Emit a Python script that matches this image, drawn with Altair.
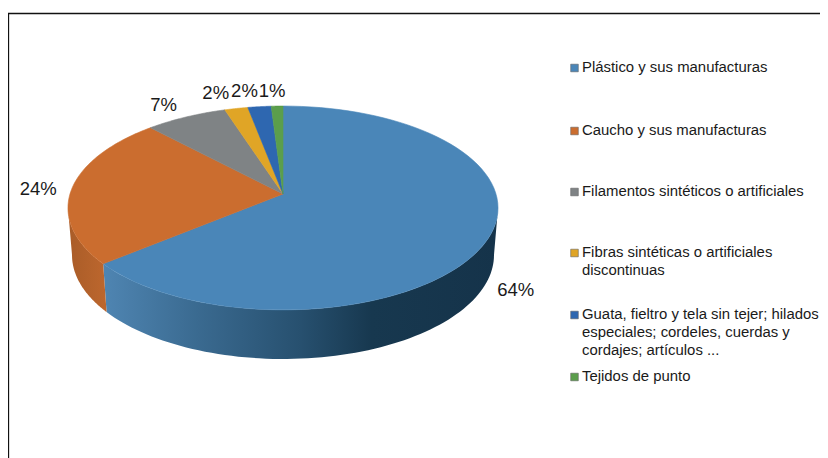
import math
import altair as alt
import pandas as pd

# --- chart values -----------------------------------------------------------
names = ["Plástico y sus manufacturas", "Caucho y sus manufacturas",
         "Filamentos sintéticos o artificiales", "Fibras sintéticas o artificiales discontinuas",
         "Guata, fieltro y tela sin tejer; hilados especiales; cordeles, cuerdas y cordajes; artículos ...",
         "Tejidos de punto"]
shares = [64, 24, 7, 2, 2, 1]
colors = ["#4a86b8", "#cb6d2f", "#7f8385", "#e0a526", "#2e67b0", "#5b9e4c"]
legend_lines = [["Plástico y sus manufacturas"], ["Caucho y sus manufacturas"],
                ["Filamentos sintéticos o artificiales"],
                ["Fibras sintéticas o artificiales", "discontinuas"],
                ["Guata, fieltro y tela sin tejer; hilados", "especiales; cordeles, cuerdas y", "cordajes; artículos ..."],
                ["Tejidos de punto"]]

# --- layout -----------------------------------------------------------------
CX, K = 283, 0.137
TOP = dict(R=213, a=100, y0=194)      # perspective of the upper face
BOT = dict(R=209, a=102, y0=240.8)    # perspective of the lower rim
LABEL_OFFSET = [(28, 51), (-34, 1), (-22.5, -12), (-20.5, -15.5), (-15, -16), (-5, -15)]
LEGEND_Y = [68, 131, 192, 253, 315, 377]
LEGEND_LINE = 18
LEGEND_X, LEGEND_SQ = 582, 574.5
SIL_R, SIL_L = 97.9, 262.1            # angles where the wall's silhouette lies


def project(deg, g):
    u, v = math.sin(math.radians(deg)), math.cos(math.radians(deg))
    d = 1 + K * v
    return CX + g["R"] * u / d, g["y0"] - g["a"] * v / d


def steps(a, b, n=80):
    return [a + (b - a) * i / n for i in range(n + 1)]


cum = [0]
for s in shares:
    cum.append(cum[-1] + s)
total = cum[-1]
ang = [c * 360 / total for c in cum]

# upper faces, one closed outline per slice
faces = []
for i, name in enumerate(names):
    pts = [(CX, TOP["y0"])] + [project(d, TOP) for d in steps(ang[i], ang[i + 1])]
    for j, (x, y) in enumerate(pts):
        faces.append(dict(slice=name, o=j, x=x, y=y))
faces = pd.DataFrame(faces)


def wall(a, b):
    top = [project(d, TOP) for d in steps(a, b)]
    bot = [project(d, BOT) for d in steps(a, b)]
    return pd.DataFrame([dict(o=j, x=x, y=y) for j, (x, y) in enumerate(top + bot[::-1])])


wall_blue = wall(SIL_R, ang[1])
wall_orange = wall(ang[1], SIL_L)

# text
labels = []
for i, s in enumerate(shares):
    mid = (ang[i] + ang[i + 1]) / 2
    x, y = project(mid, TOP)
    labels.append(dict(t=f"{s}%", x=x + LABEL_OFFSET[i][0], y=y + LABEL_OFFSET[i][1]))
labels = pd.DataFrame(labels)

legend_text = pd.DataFrame([dict(t=l, x=LEGEND_X, y=LEGEND_Y[i] + k * LEGEND_LINE)
                            for i, lines in enumerate(legend_lines) for k, l in enumerate(lines)])
legend_sq = pd.DataFrame([dict(slice=n, x=LEGEND_SQ, y=LEGEND_Y[i]) for i, n in enumerate(names)])

# --- scales: page pixel units --------------------------------------------------
W, H = 812, 450
xs = alt.Scale(domain=[8, 8 + W], range=[0, W], zero=False, nice=False)
ys = alt.Scale(domain=[8, 8 + H], range=[0, H], zero=False, nice=False)
X = alt.X("x:Q", scale=xs, axis=None)
Y = alt.Y("y:Q", scale=ys, axis=None)
cs = alt.Scale(domain=names, range=colors)


def grad(stops):
    return alt.Gradient(gradient="linear", x1=0, x2=1, y1=0, y2=0,
                        stops=[alt.GradientStop(offset=o, color=c) for o, c in stops])


wall1 = alt.Chart(wall_blue).mark_line(
    interpolate="linear-closed", strokeWidth=0,
    fill=grad([(0, "#4f85b2"), (0.24, "#3a6a90"), (0.5, "#27506f"), (0.68, "#17384f"), (1, "#15334a")])
).encode(x=X, y=Y, order="o:Q")
wall2 = alt.Chart(wall_orange).mark_line(
    interpolate="linear-closed", strokeWidth=0,
    fill=grad([(0, "#a95c28"), (1, "#bd672e")])
).encode(x=X, y=Y, order="o:Q")
top = alt.Chart(faces).mark_line(interpolate="linear-closed", strokeWidth=0.6).encode(
    x=X, y=Y, order="o:Q",
    fill=alt.Fill("slice:N", scale=cs, legend=None),
    stroke=alt.Stroke("slice:N", scale=cs, legend=None),
)
pct = alt.Chart(labels).mark_text(font="Liberation Sans", fontSize=18.5, color="#1a1a1a",
                                  align="center", baseline="middle").encode(x=X, y=Y, text="t:N")
sq = alt.Chart(legend_sq).mark_square(size=58, opacity=1, strokeWidth=0.6, stroke="#666666").encode(
    x=X, y=Y, fill=alt.Fill("slice:N", scale=cs, legend=None))
leg = alt.Chart(legend_text).mark_text(font="Liberation Sans", fontSize=14.9, color="#1a1a1a",
                                       align="left", baseline="middle").encode(x=X, y=Y, text="t:N")
frame_t = alt.Chart(pd.DataFrame(dict(x=[8], x2=[820], y=[13.5]))).mark_rule(color="#111111", strokeWidth=1.3).encode(
    x=X, x2="x2:Q", y=Y)
frame_l = alt.Chart(pd.DataFrame(dict(x=[8.5], y=[13.5], y2=[458]))).mark_rule(color="#111111", strokeWidth=1.3).encode(
    x=X, y=Y, y2="y2:Q")

chart = alt.layer(wall1, wall2, top, pct, sq, leg, frame_t, frame_l).properties(
    width=W, height=H, padding=0, background="white",
    autosize=alt.AutoSizeParams(type="none")
).configure_view(stroke=None)
chart.save("out.html", embed_options={"renderer": "svg", "actions": False})
